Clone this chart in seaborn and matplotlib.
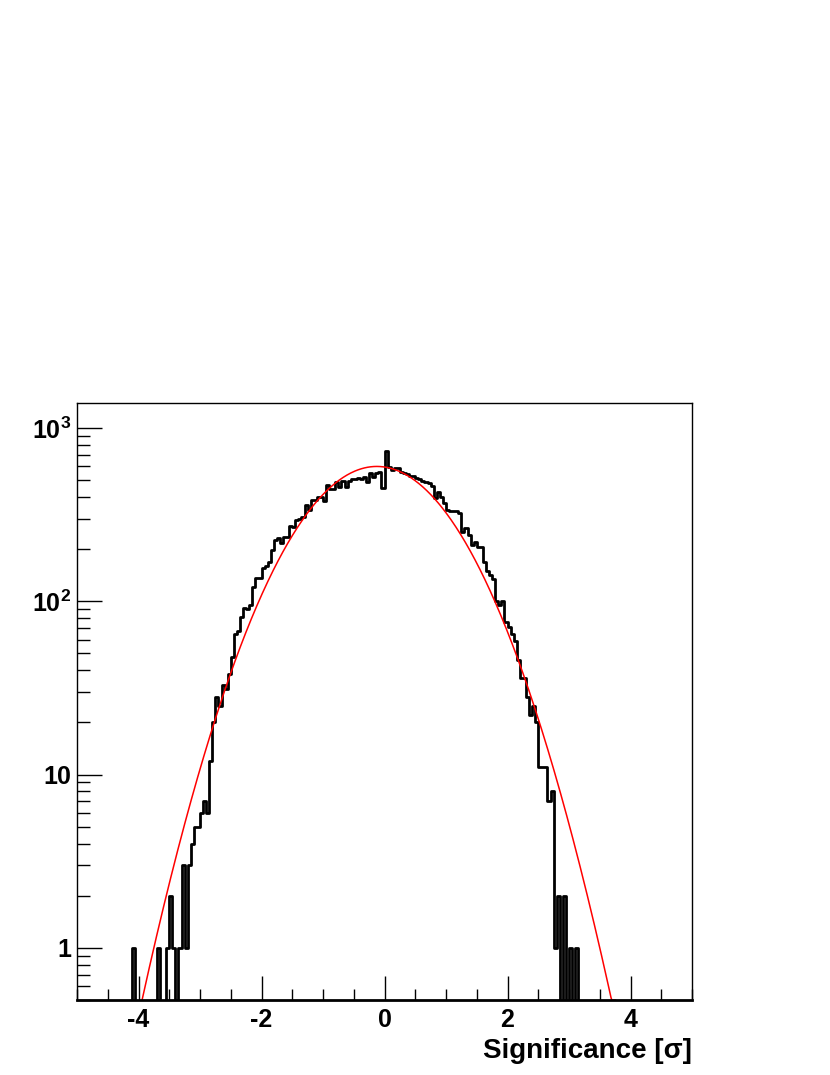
import matplotlib
matplotlib.use("Agg")
import matplotlib.pyplot as plt
import matplotlib.ticker as mticker
import seaborn as sns
import numpy as np
import pandas as pd

# histogram: 200 bins of 0.05 between -5 and 5, counts given from -4.10 upward
x_min, x_max, n_bins = -5.0, 5.0, 200
first_bin = -4.10
counts_obs = [
    1, 0, 0, 0, 0, 0, 0, 0, 1, 0, 0, 1, 2, 1, 0, 1, 3, 1, 3, 4,      # -4.10 .. -3.15
    5, 5, 6, 7, 6, 12, 20, 28, 25, 33, 31, 38, 48, 65, 67, 81,        # -3.10 .. -2.35
    92, 90, 95, 121, 136, 136, 155, 160, 168, 198, 225, 231, 218,     # -2.30 .. -1.70
    234, 236, 272, 270, 295, 300, 305, 360, 336, 384, 384, 398, 398,  # -1.65 .. -1.05
    380, 469, 445, 445, 490, 459, 497, 459, 497, 506, 506, 517, 506,  # -1.00 .. -0.40
    524, 490, 547, 524, 547, 560, 449,                                # -0.35 .. -0.05
    738, 598, 570, 585, 585, 560, 550, 540, 525, 530, 515, 505, 495,  # 0.00 .. 0.60
    485, 480, 462, 395, 430, 402, 367, 335, 333, 330, 330, 322, 252,  # 0.65 .. 1.25
    264, 241, 211, 221, 207, 207, 169, 150, 142, 134, 101, 95, 100,   # 1.30 .. 1.90
    76, 71, 65, 59, 46, 36, 36, 28, 22, 25, 20, 11, 11, 11, 7, 8,     # 1.95 .. 2.70
    1, 2, 0, 2, 0, 1, 0, 1,                                           # 2.75 .. 3.10
]

# gaussian fit shown in red
fit_amp, fit_mean, fit_sigma = 600.0, -0.125, 1.0136
fit_lo, fit_hi = -3.94, 3.76

y_min, y_max = 0.5, 1394

edges = np.linspace(x_min, x_max, n_bins + 1)
centers = 0.5 * (edges[:-1] + edges[1:])
start = int(round((first_bin - x_min) / (edges[1] - edges[0])))
counts = np.zeros(n_bins)
counts[start:start + len(counts_obs)] = counts_obs
hist_df = pd.DataFrame({"sig": centers, "n": counts})

sns.set_style("ticks")
plt.rcParams["font.family"] = ["Liberation Sans", "DejaVu Sans"]
plt.rcParams["font.weight"] = "bold"
plt.rcParams["axes.unicode_minus"] = False
plt.rcParams["text.color"] = "black"
plt.rcParams["axes.labelcolor"] = "black"
plt.rcParams["xtick.color"] = "black"
plt.rcParams["ytick.color"] = "black"
plt.rcParams["mathtext.fontset"] = "custom"
plt.rcParams["mathtext.rm"] = "Liberation Sans:bold"
plt.rcParams["mathtext.bf"] = "Liberation Sans:bold"
plt.rcParams["mathtext.it"] = "Liberation Sans:bold"

fig = plt.figure(figsize=(8.3, 10.75), dpi=100)
ax = fig.add_axes([77 / 830, 1 - 1000 / 1075, 615 / 830, 597 / 1075])

sns.histplot(data=hist_df, x="sig", weights="n", bins=list(edges), element="step",
             fill=False, color="black", linewidth=2, ax=ax)

xs = np.linspace(fit_lo, fit_hi, 600)
ys = fit_amp * np.exp(-0.5 * ((xs - fit_mean) / fit_sigma) ** 2)
ys = np.clip(ys, y_min, None)
sns.lineplot(x=xs, y=ys, color="red", linewidth=1.1, ax=ax)

ax.set_yscale("log")
ax.set_xlim(x_min, x_max)
ax.set_ylim(y_min, y_max)

ax.xaxis.set_major_locator(mticker.FixedLocator([-4, -2, 0, 2, 4]))
ax.xaxis.set_minor_locator(mticker.MultipleLocator(0.5))
ax.yaxis.set_major_locator(mticker.FixedLocator([1, 10, 100, 1000]))
ax.yaxis.set_minor_locator(mticker.LogLocator(base=10, subs=np.arange(2, 10), numticks=20))
ax.yaxis.set_major_formatter(mticker.FixedFormatter(["1", "10", r"$10^{2}$", r"$10^{3}$"]))
ax.yaxis.set_minor_formatter(mticker.NullFormatter())

ax.tick_params(axis="both", which="both", direction="in", top=False, right=False,
               color="black", labelcolor="black", width=1)
ax.tick_params(axis="x", which="major", length=17, labelsize=18, pad=6)
ax.tick_params(axis="x", which="minor", length=8)
ax.tick_params(axis="y", which="major", length=18, labelsize=18, pad=4)
ax.tick_params(axis="y", which="minor", length=9)
for lab in ax.get_xticklabels() + ax.get_yticklabels():
    lab.set_fontweight("bold")

for sp in ax.spines.values():
    sp.set_visible(True)
    sp.set_linewidth(1)
    sp.set_color("black")
ax.spines["bottom"].set_linewidth(2)

ax.set_ylabel("")
ax.set_xlabel("Significance [σ]", loc="right", fontsize=20, fontweight="bold",
              color="black", labelpad=4)

fig.savefig("out.png", dpi=100, facecolor="white")
